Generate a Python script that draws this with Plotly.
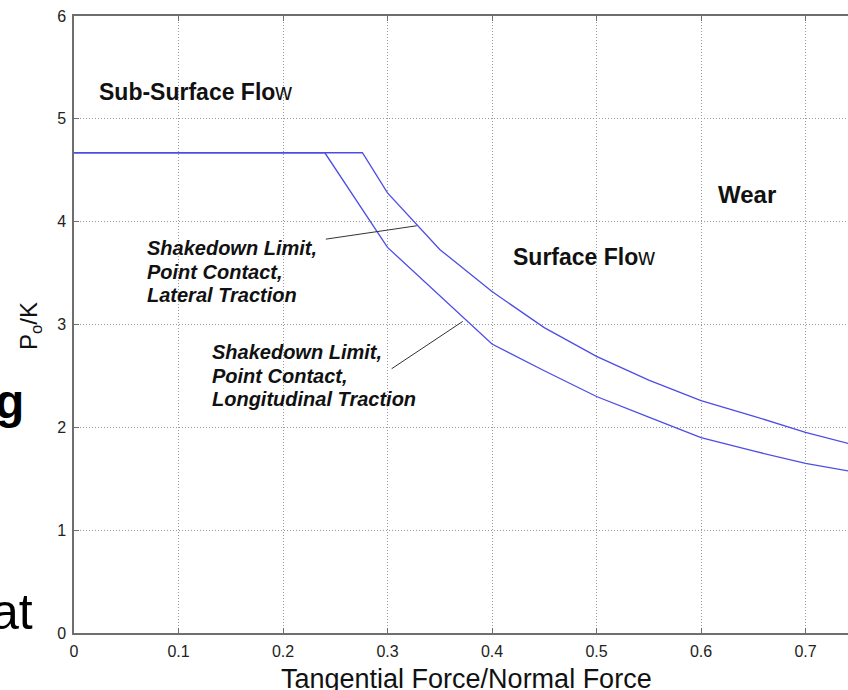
import plotly.graph_objects as go

# ---- data ----
lateral_x = [0.0, 0.276, 0.30, 0.35, 0.40, 0.45, 0.50, 0.55, 0.60, 0.65, 0.70, 0.75]
lateral_y = [4.67, 4.67, 4.28, 3.73, 3.32, 2.97, 2.69, 2.46, 2.26, 2.11, 1.95, 1.82]
longitudinal_x = [0.0, 0.240, 0.30, 0.35, 0.40, 0.45, 0.50, 0.55, 0.60, 0.65, 0.70, 0.75]
longitudinal_y = [4.67, 4.67, 3.75, 3.28, 2.81, 2.55, 2.30, 2.10, 1.90, 1.77, 1.65, 1.56]
pointer_lateral_x = [0.241, 0.328]
pointer_lateral_y = [3.83, 3.96]
pointer_longitudinal_x = [0.304, 0.372]
pointer_longitudinal_y = [2.57, 3.03]
x_ticks = [0, 0.1, 0.2, 0.3, 0.4, 0.5, 0.6, 0.7]
x_tick_labels = ["0", "0.1", "0.2", "0.3", "0.4", "0.5", "0.6", "0.7"]
y_ticks = [0, 1, 2, 3, 4, 5, 6]
y_tick_labels = ["0", "1", "2", "3", "4", "5", "6"]

W, H = 848, 690
ML, MR, MT, MB = 74, 0, 16, 57
PW, PH = W - ML - MR, H - MT - MB
FONT = "Liberation Sans, Arial, sans-serif"
LINE_COLOR = "#4d4de6"

def px_to_paper_x(px):
    return (px - ML) / PW

def px_to_paper_y(py):
    return (H - MB - py) / PH

fig = go.Figure()
fig.add_trace(go.Scatter(x=lateral_x, y=lateral_y, mode="lines",
                         line=dict(color=LINE_COLOR, width=1.3), hoverinfo="skip", showlegend=False))
fig.add_trace(go.Scatter(x=longitudinal_x, y=longitudinal_y, mode="lines",
                         line=dict(color=LINE_COLOR, width=1.3), hoverinfo="skip", showlegend=False))
fig.add_trace(go.Scatter(x=pointer_lateral_x, y=pointer_lateral_y, mode="lines",
                         line=dict(color="#333333", width=1), hoverinfo="skip", showlegend=False))
fig.add_trace(go.Scatter(x=pointer_longitudinal_x, y=pointer_longitudinal_y, mode="lines",
                         line=dict(color="#333333", width=1), hoverinfo="skip", showlegend=False))

axis_common = dict(
    showline=True, linecolor="#6e6e6e", linewidth=1.5,
    ticks="inside", ticklen=5, tickcolor="#6e6e6e", tickwidth=1,
    showgrid=True, gridcolor="#9a9a9a", gridwidth=1, griddash="1px,2px",
    zeroline=False, tickfont=dict(family=FONT, size=16, color="#222222"),
)
fig.update_xaxes(range=[0, PW / 1045.0], tickvals=x_ticks, ticktext=x_tick_labels,
                 mirror="ticks", ticklabelstandoff=3, **axis_common)
fig.update_yaxes(range=[0, 6], tickvals=y_ticks, ticktext=y_tick_labels,
                 mirror=False, ticklabelstandoff=3, **axis_common)

ann = []
def label(text, xd, yd, size, anchor="left", italic=False):
    ann.append(dict(text=text, x=xd, y=yd, xref="x", yref="y", xanchor=anchor, yanchor="middle",
                    showarrow=False, font=dict(family=FONT, size=size, color="#111111",
                                                style="italic" if italic else "normal")))

label("<b>Sub-Surface Flo</b>w", 0.022, 5.26, 23)
label("<b>Surface Flo</b>w", 0.418, 3.66, 23)
label("<b>Wear</b>", 0.614, 4.26, 24)
for t, yy in zip(["Shakedown Limit,", "Point Contact,", "Lateral Traction"], [3.745, 3.51, 3.29]):
    label("<b>" + t + "</b>", 0.068, yy, 20, italic=True)
for t, yy in zip(["Shakedown Limit,", "Point Contact,", "Longitudinal Traction"], [2.733, 2.50, 2.276]):
    label("<b>" + t + "</b>", 0.130, yy, 20, italic=True)

# axis titles
ann.append(dict(text="Tangential Force/Normal Force", x=px_to_paper_x(466), y=px_to_paper_y(679),
                xref="paper", yref="paper", xanchor="center", yanchor="middle", showarrow=False,
                font=dict(family=FONT, size=27, color="#111111")))
ann.append(dict(text="P<sub>o</sub>/K", x=px_to_paper_x(30), y=px_to_paper_y(326), textangle=-90,
                xref="paper", yref="paper", xanchor="center", yanchor="middle", showarrow=False,
                font=dict(family=FONT, size=24, color="#111111")))
# slide text fragments
ann.append(dict(text="<b>g</b>", x=px_to_paper_x(26), y=px_to_paper_y(401), xref="paper", yref="paper",
                xanchor="right", yanchor="middle", showarrow=False,
                font=dict(family=FONT, size=48, color="#000000")))
ann.append(dict(text="at", x=px_to_paper_x(35), y=px_to_paper_y(612), xref="paper", yref="paper",
                xanchor="right", yanchor="middle", showarrow=False,
                font=dict(family=FONT, size=50, color="#000000")))

fig.update_layout(width=W, height=H, margin=dict(l=ML, r=MR, t=MT, b=MB, pad=0),
                  paper_bgcolor="white", plot_bgcolor="white", annotations=ann, showlegend=False)
fig.write_html("out.html")
